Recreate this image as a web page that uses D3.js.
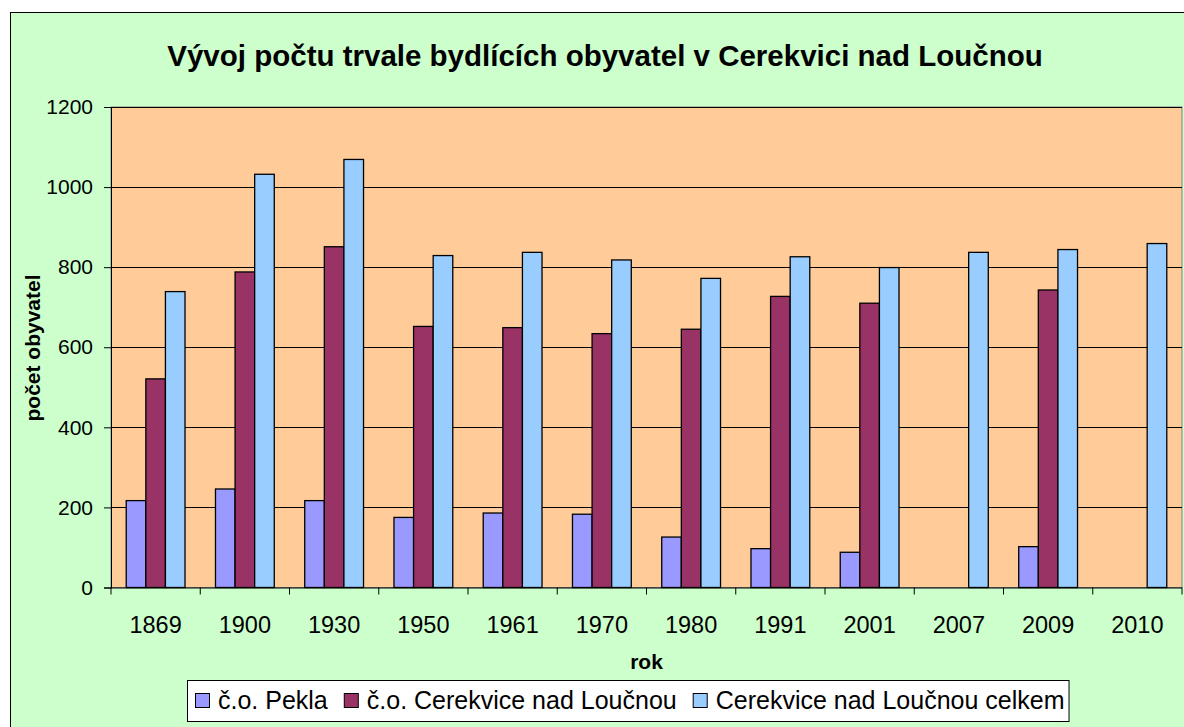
<!DOCTYPE html>
<html><head><meta charset="utf-8">
<script src="https://cdn.jsdelivr.net/npm/d3@7"></script>
<style>body{margin:0;background:#fff;} svg{display:block;} text{font-family:"Liberation Sans",Arial,sans-serif;}</style>
</head><body>
<svg id="c" width="1184" height="727"></svg>
<script>
const years = ["1869","1900","1930","1950","1961","1970","1980","1991","2001","2007","2009","2010"];
const seriesNames = ["č.o. Pekla","č.o. Cerekvice nad Loučnou","Cerekvice nad Loučnou celkem"];
const pekla = [217,246,217,175,186,183,126,97,88,null,102,null];
const cerekvice = [521,788,851,652,649,634,645,727,710,null,743,null];
const celkem = [739,1032,1069,829,837,818,772,826,799,837,844,859];
const yTicks = [0,200,400,600,800,1000,1200];
const colors = ["#9999FF","#993366","#99CCFF"];

const svg = d3.select("#c");
const L=111, R=1182, T=107, B=587.5;

svg.append("rect").attr("x",10.5).attr("y",12.5).attr("width",1190).attr("height",730)
  .attr("fill","#CCFFCC").attr("stroke","#000").attr("stroke-width",1);

const x = d3.scaleBand().domain(years).range([L,R]).padding(0);
const xs = d3.scaleBand().domain(seriesNames).range([0,x.bandwidth()]).paddingInner(0).paddingOuter(0.777);
const y = d3.scaleLinear().domain([0,1200]).range([B,T]);

svg.append("rect").attr("x",L).attr("y",T).attr("width",R-L).attr("height",B-T)
  .attr("fill","#FFCC99").attr("stroke","#808080").attr("stroke-width",1);

svg.append("g").selectAll("line").data(yTicks.filter(d=>d>0)).join("line")
  .attr("x1",L).attr("x2",R).attr("y1",d=>Math.round(y(d))+0.5).attr("y2",d=>Math.round(y(d))+0.5)
  .attr("stroke","#000").attr("stroke-width",1);

const data = [pekla,cerekvice,celkem];
data.forEach((vals,si)=>{
  svg.append("g").selectAll("rect").data(years.map((yr,i)=>({yr,v:vals[i]})).filter(d=>d.v!=null)).join("rect")
    .attr("x",d=>x(d.yr)+xs(seriesNames[si]))
    .attr("width",xs.bandwidth())
    .attr("y",d=>y(d.v))
    .attr("height",d=>y(0)-y(d.v))
    .attr("fill",colors[si]).attr("stroke","#000").attr("stroke-width",1.3);
});

const ya = svg.append("g").attr("transform",`translate(${L},0)`)
  .call(d3.axisLeft(y).tickValues(yTicks).tickSize(7).tickPadding(11).tickFormat(d3.format("d")));
ya.select(".domain").attr("stroke","#000");
ya.selectAll(".tick line").attr("stroke","#000");
ya.selectAll("text").attr("font-size",21).attr("fill","#000").attr("font-family","Liberation Sans, Arial, sans-serif");

const xa = svg.append("g").attr("transform",`translate(0,${B})`)
  .call(d3.axisBottom(x).tickSize(0).tickPadding(29));
xa.select(".domain").attr("stroke","#000").attr("d",`M${L},0.5H${R}`);
xa.selectAll("text").attr("font-size",23.5).attr("fill","#000").attr("font-family","Liberation Sans, Arial, sans-serif");
svg.append("g").selectAll("line").data(years.concat(["end"])).join("line")
  .attr("x1",(d,i)=>i<years.length?x(d):R).attr("x2",(d,i)=>i<years.length?x(d):R)
  .attr("y1",B).attr("y2",B+7).attr("stroke","#000");

svg.append("text").attr("x",605).attr("y",66).attr("text-anchor","middle")
  .attr("font-size",29.5).attr("font-weight","bold").text("Vývoj počtu trvale bydlících obyvatel v Cerekvici nad Loučnou");
svg.append("text").attr("x",(L+R)/2).attr("y",669).attr("text-anchor","middle")
  .attr("font-size",21).attr("font-weight","bold").text("rok");
svg.append("text").attr("transform",`translate(40,348) rotate(-90)`).attr("text-anchor","middle")
  .attr("font-size",21).attr("font-weight","bold").text("počet obyvatel");

const lg = svg.append("g");
const lbox = lg.append("rect").attr("y",680.5).attr("height",41).attr("fill","#fff").attr("stroke","#000");
let cx = 195;
seriesNames.forEach((n,i)=>{
  lg.append("rect").attr("x",cx+0.5).attr("y",693.5).attr("width",14).attr("height",14).attr("fill",colors[i]).attr("stroke","#000");
  const t = lg.append("text").attr("x",cx+23).attr("y",709).attr("font-size",25).text(n);
  cx += 23 + t.node().getComputedTextLength() + 16;
});
lbox.attr("x",187.5).attr("width",cx-16+4-187);
</script>
</body></html>
